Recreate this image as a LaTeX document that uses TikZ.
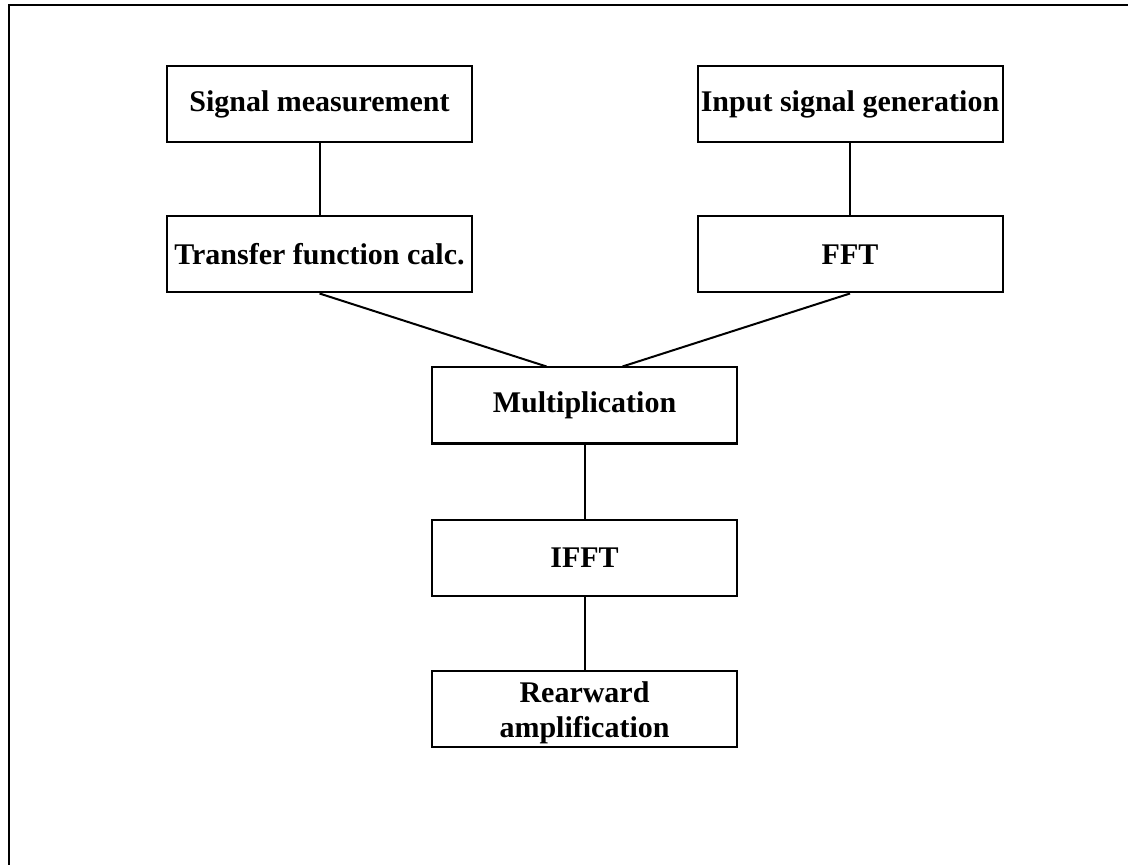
\documentclass[tikz,border=0pt]{standalone}
\usepackage{fontspec}
\setmainfont{Liberation Serif}
\usetikzlibrary{calc}
\begin{document}
\begin{tikzpicture}[x=0.5pt,y=-0.5pt,
  blockbox/.style={draw, line width=1pt, rectangle, minimum width=152.5pt,
    minimum height=38pt, inner sep=0pt, align=center,
    font=\fontsize{15}{17.5}\selectfont\bfseries},
  link/.style={line width=1pt}]
\useasboundingbox (0,0) rectangle (1128,865);
% outer frame (runs off the page on the right and bottom)
\draw[line width=1pt] (9,880) -- (9,5) -- (1140,5);

\node[blockbox] (sm)   at (319.5,104)   {Signal measurement};
\node[blockbox] (tf)   at (319.5,254.5) {Transfer function calc.};
\node[blockbox] (isg)  at (850,104)     {Input signal generation};
\node[blockbox] (fft)  at (850,254.5)   {FFT};
\node[blockbox] (mult) at (584.5,405.5) {Multiplication};
\node[blockbox] (ifft) at (584.5,557.5) {IFFT};
\node[blockbox] (ra)   at (584.5,709)   {\rule{0pt}{14.5pt}Rearward\\amplification};

\draw[link] (sm.south) -- (tf.north);
\draw[link] (isg.south) -- (fft.north);
\draw[link] (tf.south) -- ($(mult.north)+(-38,0)$);
\draw[link] (fft.south) -- ($(mult.north)+(38,0)$);
\draw[link] (mult.south) -- (ifft.north);
\draw[link] (ifft.south) -- (ra.north);
\end{tikzpicture}
\end{document}
